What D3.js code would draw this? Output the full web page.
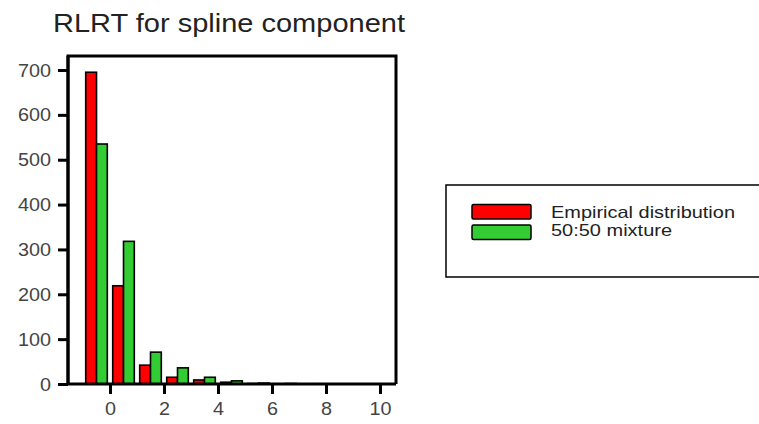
<!DOCTYPE html>
<html><head><meta charset="utf-8">
<script src="https://cdn.jsdelivr.net/npm/d3@7"></script>
<style>body{margin:0;background:#fff}svg{display:block}</style>
</head><body>
<svg id="c" width="759" height="424"></svg>
<script>
const binStarts = [-1, 0, 1, 2, 3, 4, 5, 6, 7, 8, 9];
const empirical = [695, 219, 42, 15, 9, 4, 1, 0.5, 0, 0, 0];
const mixture = [535, 318, 71, 36, 15, 7, 2, 1, 0.5, 0, 0];
const seriesNames = ["Empirical distribution", "50:50 mixture"];
const colors = ["#ff0000", "#33cc33"];
const yTicks = [0, 100, 200, 300, 400, 500, 600, 700];
const xTicks = [0, 2, 4, 6, 8, 10];

const svg = d3.select("#c");
const L = 68, R = 396, T = 56, B = 384;
const x = d3.scaleLinear().domain([-1.556, 10.593]).range([L, R]);
const y = d3.scaleLinear().domain([0, 700]).range([B, 70]);
const font = "'Liberation Sans', Arial, sans-serif";

svg.append("text").attr("x", 53).attr("y", 31.5).attr("font-family", font)
  .attr("font-size", 26).attr("fill", "#222")
  .attr("textLength", 352).attr("lengthAdjust", "spacingAndGlyphs")
  .text("RLRT for spline component");

// bars
const series = [empirical, mixture];
series.forEach((vals, si) => {
  svg.append("g").selectAll("rect").data(binStarts.map((b, i) => ({b, v: vals[i]})).filter(d => d.v > 0))
    .join("rect")
    .attr("x", d => x(d.b + 0.1 + si * 0.4))
    .attr("width", x(0.4) - x(0))
    .attr("y", d => y(d.v))
    .attr("height", d => B - y(d.v))
    .attr("fill", colors[si])
    .attr("stroke", "#000").attr("stroke-width", 1.6);
});

// frame
svg.append("path").attr("d", `M${L},${B}V${T}H${R}V${B}`).attr("fill", "none")
  .attr("stroke", "#000").attr("stroke-width", 3);

// axes
const yAxis = svg.append("g").attr("transform", `translate(${L},0)`)
  .call(d3.axisLeft(y).tickValues(yTicks).tickSize(10).tickPadding(7).tickFormat(d3.format("d")));
const xAxis = svg.append("g").attr("transform", `translate(0,${B})`)
  .call(d3.axisBottom(x).tickValues(xTicks).tickSize(10).tickPadding(8).tickFormat(d3.format("d")));
[yAxis, xAxis].forEach(a => {
  a.select(".domain").attr("stroke", "#000").attr("stroke-width", 3);
  a.selectAll(".tick line").attr("stroke", "#000").attr("stroke-width", 3);
  a.selectAll(".tick text").attr("font-family", font).attr("font-size", 19).attr("fill", "#444")
    .attr("lengthAdjust", "spacingAndGlyphs")
    .attr("textLength", function() { return this.textContent.length * 11; });
});
xAxis.select(".domain").attr("d", `M${L},0H${R}`);
yAxis.select(".domain").attr("d", `M0,${B}V${T}`);

// legend
svg.append("rect").attr("x", 446).attr("y", 185).attr("width", 320).attr("height", 92)
  .attr("fill", "#fff").attr("stroke", "#000").attr("stroke-width", 1.5);
const legendW = [184, 121];
seriesNames.forEach((n, i) => {
  svg.append("rect").attr("x", 472).attr("y", 204.5 + i * 20.5).attr("width", 59).attr("height", 14.5)
    .attr("rx", 1.5).attr("fill", colors[i]).attr("stroke", "#000").attr("stroke-width", 1.5);
  svg.append("text").attr("x", 551).attr("y", 217.5 + i * 18).attr("font-family", font)
    .attr("font-size", 16.5).attr("fill", "#222")
    .attr("textLength", legendW[i]).attr("lengthAdjust", "spacingAndGlyphs").text(n);
});
</script>
</body></html>
